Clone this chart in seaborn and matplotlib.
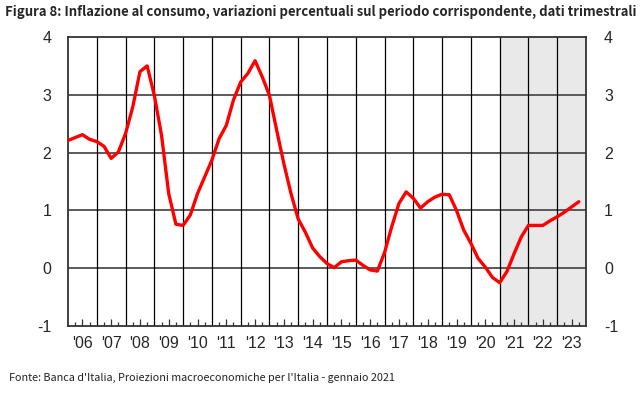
import matplotlib.pyplot as plt
import numpy as np
import pandas as pd
import seaborn as sns

# Dati trimestrali (2006T1 - 2023T4)
anni = list(range(2006, 2024))
trimestri = [1, 2, 3, 4]
inflazione = [
    2.21, 2.26, 2.31, 2.23,   # 2006
    2.19, 2.11, 1.90, 2.01,   # 2007
    2.33, 2.79, 3.40, 3.50,   # 2008
    2.99, 2.30, 1.29, 0.76,   # 2009
    0.74, 0.92, 1.29, 1.58,   # 2010
    1.87, 2.24, 2.47, 2.91,   # 2011
    3.22, 3.37, 3.59, 3.31,   # 2012
    2.99, 2.39, 1.81, 1.29,   # 2013
    0.85, 0.62, 0.35, 0.20,   # 2014
    0.08, 0.01, 0.11, 0.13,   # 2015
    0.14, 0.05, -0.03, -0.05,  # 2016
    0.27, 0.72, 1.12, 1.32,   # 2017
    1.21, 1.04, 1.15, 1.23,   # 2018
    1.28, 1.27, 1.00, 0.66,   # 2019
    0.43, 0.17, 0.02, -0.16,  # 2020
    -0.25, -0.06, 0.25, 0.54,  # 2021
    0.74, 0.74, 0.74, 0.82,   # 2022
    0.89, 0.97, 1.06, 1.15,   # 2023
]
etichette_anni = ["'%02d" % (a % 100) for a in anni]
inizio_previsioni = 2021
valori_y = [-1, 0, 1, 2, 3, 4]

titolo = ("Figura 8: Inflazione al consumo, variazioni percentuali sul periodo "
          "corrispondente, dati trimestrali")
fonte = "Fonte: Banca d'Italia, Proiezioni macroeconomiche per l'Italia - gennaio 2021"

sns.set_style("white")
plt.rcParams["font.family"] = ["Liberation Sans", "DejaVu Sans"]
plt.rcParams["axes.unicode_minus"] = False

df = pd.DataFrame({
    "periodo": [a + (t - 1) / 4 for a in anni for t in trimestri],
    "valore": inflazione,
})

fig = plt.figure(figsize=(6.42, 3.93), dpi=100)
ax = fig.add_axes([68 / 642, 1 - 326 / 393, 518 / 642, 289 / 393])

# area delle previsioni
ax.axvspan(inizio_previsioni, anni[-1] + 1, color="#e9e9e9", zorder=0, lw=0)

# griglia
for v in valori_y[1:-1]:
    ax.axhline(v, color="#4d4d4d", lw=1.3, zorder=1)
for a in anni[1:]:
    ax.axvline(a, color="black", lw=0.9, zorder=1)

sns.lineplot(data=df, x="periodo", y="valore", color="#ff0000",
             linewidth=2.4, ax=ax, zorder=3)

ax.set_xlim(anni[0], anni[-1] + 1)
ax.set_ylim(valori_y[0], valori_y[-1])
ax.set_xlabel("")
ax.set_ylabel("")

# tacche: anni al centro, trimestri minori
ax.set_xticks([a + 0.5 for a in anni])
ax.set_xticklabels(etichette_anni)
ax.set_xticks([a + f for a in anni for f in (0.25, 0.75)], minor=True)
ax.tick_params(axis="x", which="major", direction="in", length=5, width=0.9,
               color="#333333", labelsize=11.5, pad=7, bottom=True)
ax.tick_params(axis="x", which="minor", direction="in", length=3, width=0.9,
               color="#333333", bottom=True)

ax.set_yticks(valori_y)
ax.tick_params(axis="y", length=0, labelsize=11.5, pad=12)

for s in ax.spines.values():
    s.set_color("#333333")
    s.set_linewidth(1.3)
    s.set_visible(True)

ax2 = ax.twinx()
ax2.set_ylim(valori_y[0], valori_y[-1])
ax2.set_yticks(valori_y)
ax2.tick_params(axis="y", length=0, labelsize=11.5, pad=13)
for s in ax2.spines.values():
    s.set_visible(False)

fig.text(5 / 642, 1 - 12 / 393, titolo, fontsize=9.45, fontweight="bold",
         va="center", ha="left", family=["Noto Sans CJK JP", "DejaVu Sans"])
fig.text(9 / 642, 1 - 378 / 393, fonte, fontsize=7.8, va="center", ha="left",
         color="#222222", family=["Noto Sans CJK JP", "DejaVu Sans"])

fig.savefig("out.png", dpi=100)
